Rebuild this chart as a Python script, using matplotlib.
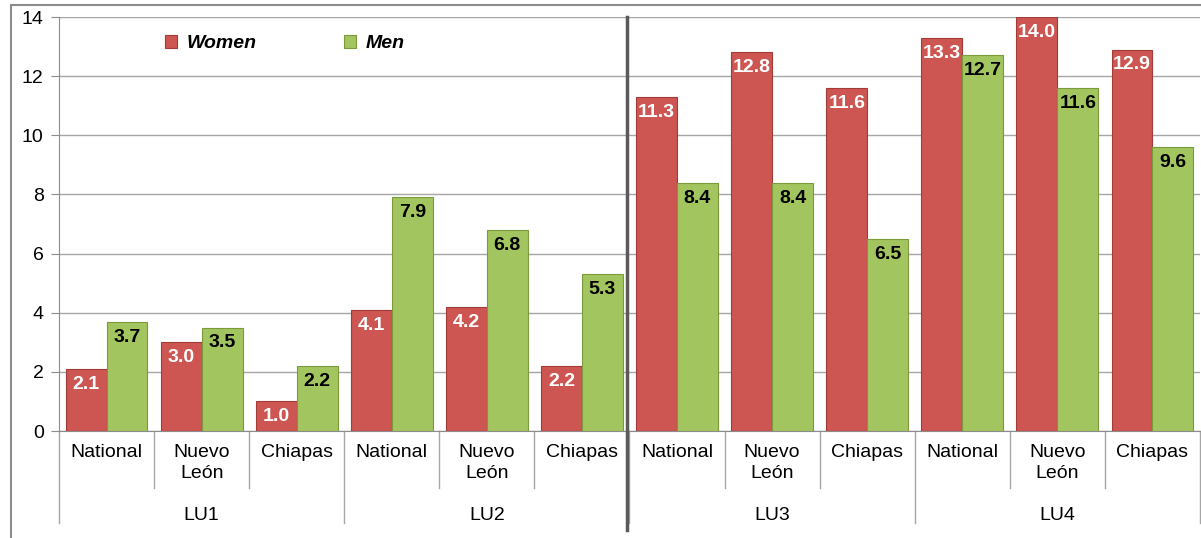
import matplotlib.pyplot as plt
import numpy as np
from matplotlib.patches import Rectangle
from matplotlib.lines import Line2D

plt.rcParams['font.family'] = ['Liberation Sans', 'DejaVu Sans']

# data
groups = ['LU1', 'LU2', 'LU3', 'LU4']
places = ['National', 'Nuevo\nLeón', 'Chiapas']
women = [2.1, 3.0, 1.0, 4.1, 4.2, 2.2, 11.3, 12.8, 11.6, 13.3, 14.0, 12.9]
men = [3.7, 3.5, 2.2, 7.9, 6.8, 5.3, 8.4, 8.4, 6.5, 12.7, 11.6, 9.6]

c_women = '#CD5552'
c_men = '#A3C55F'

fig = plt.figure(figsize=(12.01, 5.38), dpi=100)
W, H = 1201, 538
ax = fig.add_axes([59 / W, (H - 431) / H, (1200 - 59) / W, (431 - 17) / H])

# outer border
fig.patches.append(Rectangle((11 / W, -0.05), 1.2, (H - 5) / H + 0.05, transform=fig.transFigure,
                             fill=False, edgecolor='#8C8C8C', lw=1.5, zorder=0))

n = len(women)
x = np.arange(n)
bw = 0.43
ax.bar(x - bw / 2, women, bw, color=c_women, edgecolor='#A23C39', lw=0.8, label='Women', zorder=3)
ax.bar(x + bw / 2, men, bw, color=c_men, edgecolor='#7A9A3C', lw=0.8, label='Men', zorder=3)

for i in range(n):
    ax.annotate(f'{women[i]:.1f}', (x[i] - bw / 2, women[i]), xytext=(0, -5), textcoords='offset points',
                ha='center', va='top', color='white', fontsize=14, fontweight='bold', zorder=4)
    ax.annotate(f'{men[i]:.1f}', (x[i] + bw / 2, men[i]), xytext=(0, -5), textcoords='offset points',
                ha='center', va='top', color='black', fontsize=14, fontweight='bold', zorder=4)

ax.set_xlim(-0.5, n - 0.5)
ax.set_ylim(0, 14)
ax.set_yticks(range(0, 15, 2))
ax.tick_params(axis='y', labelsize=14, length=6, color='#8C8C8C', pad=5)
ax.tick_params(axis='x', length=0, labelbottom=False)
ax.grid(axis='y', color='#A6A6A6', lw=1, zorder=0)
for s in ['top', 'right']:
    ax.spines[s].set_visible(False)
ax.spines['left'].set_color('#8C8C8C')
ax.spines['bottom'].set_color('#8C8C8C')

# multi-level category axis
trans = ax.get_xaxis_transform()
px = 1 / (431 - 17)
for i in range(n):
    ax.text(x[i], -13 * px, places[i % 3], transform=trans, ha='center', va='top',
            fontsize=14, linespacing=1.3)
for g, name in enumerate(groups):
    ax.text(g * 3 + 1, -84 * px, name, transform=trans, ha='center', va='center', fontsize=14)
for b in range(n + 1):
    xb = b - 0.5
    low = -92 * px if b % 3 == 0 else -57 * px
    ax.add_line(Line2D([xb, xb], [0, low], transform=trans, color='#A6A6A6', lw=1, clip_on=False))

# separator between LU2 and LU3
ax.add_line(Line2D([5.47, 5.47], [1.0, -99 * px], transform=trans, color='#5A5A5A', lw=2.5,
                   clip_on=False, zorder=5))

leg = ax.legend(loc='upper left', bbox_to_anchor=(0.078, 0.998), ncol=2, frameon=False,
                prop={'size': 14, 'weight': 'bold', 'style': 'italic'},
                handlelength=0.6, handleheight=0.6, handletextpad=0.5, columnspacing=4.5)

fig.savefig('out.png', dpi=100)
